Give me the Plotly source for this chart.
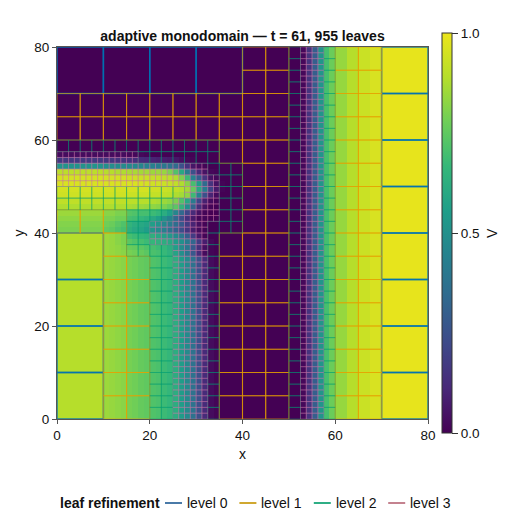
import numpy as np
import plotly.graph_objects as go

# V field on the finest grid (1.25 wide cells)
# columns for x < 40, rows from y = 56.9 downwards to y = 35.6
left_top = [0.0] * 32
left_rows = [
    [.03] * 12 + [.02, .02, .02, .01] + [0.0] * 16,
    [.17] * 8 + [.16, .16, .15, .15, .14, .13, .12, .11, .10, .09, .08, .07, .06, .04, .02, .01] + [0.0] * 8,
    [.52] * 8 + [.50, .50, .49, .49, .48, .47, .46, .45, .44, .42, .40, .38, .35, .25, .15, .06, .03, .01] + [0.0] * 6,
    [.90] * 8 + [.89, .89, .88, .88, .87, .87, .86, .86, .85, .85, .84, .80, .72, .60, .42, .25, .12, .05, .02, .01] + [0.0] * 4,
    [.95] * 12 + [.94, .94, .93, .93, .92, .92, .91, .90, .88, .80, .68, .45, .30, .15, .05, .02] + [0.0] * 4,
    [.96] * 14 + [.95, .95, .94, .94, .93, .92, .91, .88, .82, .70, .55, .35, .15, .05, .01] + [0.0] * 3,
    [.95] * 16 + [.94, .94, .93, .92, .91, .89, .86, .76, .60, .42, .20, .07, .01] + [0.0] * 3,
    [.94] * 12 + [.93] * 4 + [.92, .92, .91, .90, .88, .86, .83, .68, .45, .25, .10, .03] + [0.0] * 4,
    [.91] * 12 + [.90, .90, .89, .89, .88, .87, .85, .83, .80, .72, .60, .42, .22, .09, .03, .01] + [0.0] * 4,
    [.88] * 12 + [.87, .86, .85, .84, .83, .82, .80, .77, .74, .65, .50, .32, .14, .05, .01] + [0.0] * 5,
    [.85] * 8 + [.82, .82, .80, .80, .73, .72, .70, .70, .68, .66, .62, .56, .46, .34, .22, .12, .05, .01] + [0.0] * 6,
    [.83] * 8 + [.80, .80, .78, .78, .70, .69, .66, .64, .60, .56, .50, .44, .34, .24, .14, .07, .02, .01] + [0.0] * 6,
    [.81] * 8 + [.78, .77, .74, .72, .65, .62, .60, .58, .56, .52, .47, .42, .36, .28, .18, .10, .04, .01] + [0.0] * 6,
    [.80] * 8 + [.76, .75, .72, .70, .63, .60, .58, .55, .52, .48, .44, .38, .32, .24, .16, .08, .03, .01] + [0.0] * 6,
    [.89] * 8 + [.85, .84, .82, .80, .70, .68, .66, .65, .63, .60, .57, .54, .48, .40, .30, .18, .07, .01] + [0.0] * 6,
    [.89] * 8 + [.85, .84, .82, .80, .74, .72, .70, .68, .66, .64, .62, .60, .55, .50, .42, .33, .18, .08, .02] + [0.0] * 5,
    [.89] * 8 + [.85, .84, .83, .81, .77, .76, .74, .72, .70, .68, .66, .62, .56, .48, .40, .28, .14, .04, .01] + [0.0] * 5,
    [.89] * 8 + [.85, .84, .83, .82, .79, .78, .76, .74, .71, .70, .67, .64, .58, .50, .40, .28, .13, .03, .01] + [0.0] * 5,
]
left_low = [.89] * 8 + [.85, .84, .83, .82, .79, .78, .76, .75, .72, .71, .68, .66, .62, .55, .48, .38, .25, .12, .03, .01] + [0.0] * 4
right_profile = [0.0] * 10 + [.02, .15, .30, .52, .70, .77, .84, .84, .89, .89, .93, .93, .96, .96] + [.99] * 8

# leaf blocks per refinement level: x0, x1, y0, y1
level0_blocks = [(0, 40, 70, 80), (70, 80, 0, 80), (0, 10, 0, 40)]
level1_blocks = [
    (40, 50, 0, 80), (60, 70, 0, 80), (0, 40, 60, 70), (35, 40, 0, 40),
    (35, 40, 55, 60), (0, 15, 40, 45), (10, 15, 35, 40), (10, 20, 0, 35),
]
level2_blocks = [
    (50, 52.5, 0, 80), (57.5, 60, 0, 80), (0, 35, 57.5, 60), (17.5, 35, 55, 57.5),
    (32.5, 35, 52.5, 55), (0, 27.5, 47.5, 50), (0, 25, 45, 47.5), (20, 25, 42.5, 45),
    (32.5, 35, 0, 42.5), (20, 25, 0, 37.5), (15, 20, 35, 45), (35, 40, 40, 55),
]
level3_blocks = [
    (0, 17.5, 55, 57.5), (0, 32.5, 52.5, 55), (0, 35, 50, 52.5), (27.5, 35, 47.5, 50),
    (25, 35, 42.5, 47.5), (20, 32.5, 37.5, 42.5), (25, 32.5, 0, 37.5), (52.5, 57.5, 0, 80),
]

level_names = ["level 0", "level 1", "level 2", "level 3"]
level_sizes = [10, 5, 2.5, 1.25]
level_line_colors = ["rgba(0,114,178,0.85)", "rgba(230,159,0,0.65)", "rgba(0,158,115,0.42)", "rgba(204,121,167,0.45)"]
level_line_widths = [1.5, 1.1, 1.0, 0.8]
legend_colors = ["#4a7aa8", "#d0a830", "#2fae85", "#c4828f"]
colorbar_ticks = [0, 0.5, 1]
colorbar_labels = ["0.0", "0.5", "1.0"]
axis_ticks = [0, 20, 40, 60, 80]
viridis = ["#440154", "#482878", "#3e4989", "#31688e", "#26828e", "#1f9e89", "#35b779", "#6ece58", "#b5de2b", "#ece51b"]

FONT = "Liberation Sans"

rows = [left_top] * 18 + left_rows + [left_low] * 28
z = np.array([r + right_profile for r in rows])[::-1]
cell_centers = np.arange(64) * 1.25 + 0.625


def leaf_outlines(blocks, size):
    xs, ys = [], []
    for x0, x1, y0, y1 in blocks:
        for cx in np.arange(x0, x1, size):
            for cy in np.arange(y0, y1, size):
                xs += [cx, cx + size, cx + size, cx, cx, None]
                ys += [cy, cy, cy + size, cy + size, cy, None]
    return xs, ys


fig = go.Figure()
fig.add_trace(go.Heatmap(
    x=cell_centers, y=cell_centers, z=z, zmin=0, zmax=1,
    colorscale=[[i / 9, c] for i, c in enumerate(viridis)],
    hoverinfo="skip",
    colorbar=dict(
        thickness=10, lenmode="pixels", len=400, x=1.039, xanchor="left", xpad=0,
        y=0.5, yanchor="middle", ypad=0,
        outlinewidth=1, outlinecolor="#333333",
        tickmode="array", tickvals=colorbar_ticks, ticktext=colorbar_labels,
        ticks="outside", ticklen=6, tickcolor="#333333", tickwidth=1,
        tickfont=dict(size=13.5, color="#111111"),
    ),
))

all_blocks = [level0_blocks, level1_blocks, level2_blocks, level3_blocks]
for name, blocks, size, color, width in zip(level_names, all_blocks, level_sizes, level_line_colors, level_line_widths):
    xs, ys = leaf_outlines(blocks, size)
    fig.add_trace(go.Scatter(x=xs, y=ys, mode="lines", name=name, showlegend=False,
                             hoverinfo="skip", line=dict(color=color, width=width)))

axis_style = dict(
    range=[0, 80], tickvals=axis_ticks, ticks="outside", ticklen=4, tickwidth=1,
    tickcolor="#555555", showline=True, linecolor="#555555", linewidth=1, mirror=True,
    showgrid=False, zeroline=False, tickfont=dict(size=13.5, color="#111111"),
)
fig.update_xaxes(title=dict(text="x", font=dict(size=14), standoff=6), **axis_style)
fig.update_yaxes(title=dict(text="y", font=dict(size=14), standoff=6), **axis_style)

fig.update_layout(
    width=512, height=529,
    margin=dict(l=57, r=84, t=47, b=110),
    paper_bgcolor="white", plot_bgcolor="white",
    font=dict(family=FONT, color="#111111", size=13),
    showlegend=False,
    title=dict(text="<b>adaptive monodomain — t = 61, 955 leaves</b>", font=dict(size=14),
               x=242.5 / 512, xanchor="center", y=1 - 36 / 529, yanchor="middle"),
)

# colorbar label reads bottom to top
fig.add_annotation(text="V", xref="paper", yref="paper", x=(492 - 57) / 371, y=0.5,
                   xanchor="center", yanchor="middle",
                   showarrow=False, textangle=-90, font=dict(size=14))

# legend row under the chart
to_x = lambda px: (px - 57) / 371
to_y = lambda py: (419 - py) / 372
legend_y = to_y(503)
fig.add_annotation(text="<b>leaf refinement</b>", xref="paper", yref="paper", x=to_x(59), y=legend_y,
                   xanchor="left", yanchor="middle", showarrow=False, font=dict(size=14), xshift=-1)
for i, (name, color) in enumerate(zip(level_names, legend_colors)):
    start = 165 + i * 74.4
    fig.add_shape(type="line", xref="paper", yref="paper", x0=to_x(start), x1=to_x(start + 17),
                  y0=legend_y, y1=legend_y, line=dict(color=color, width=2))
    fig.add_annotation(text=name, xref="paper", yref="paper", x=to_x(start + 21), y=legend_y,
                       xanchor="left", yanchor="middle", showarrow=False, font=dict(size=14), xshift=-1)

fig.write_html("out.html", config={"displayModeBar": False}, post_script="document.body.style.margin='0';")
